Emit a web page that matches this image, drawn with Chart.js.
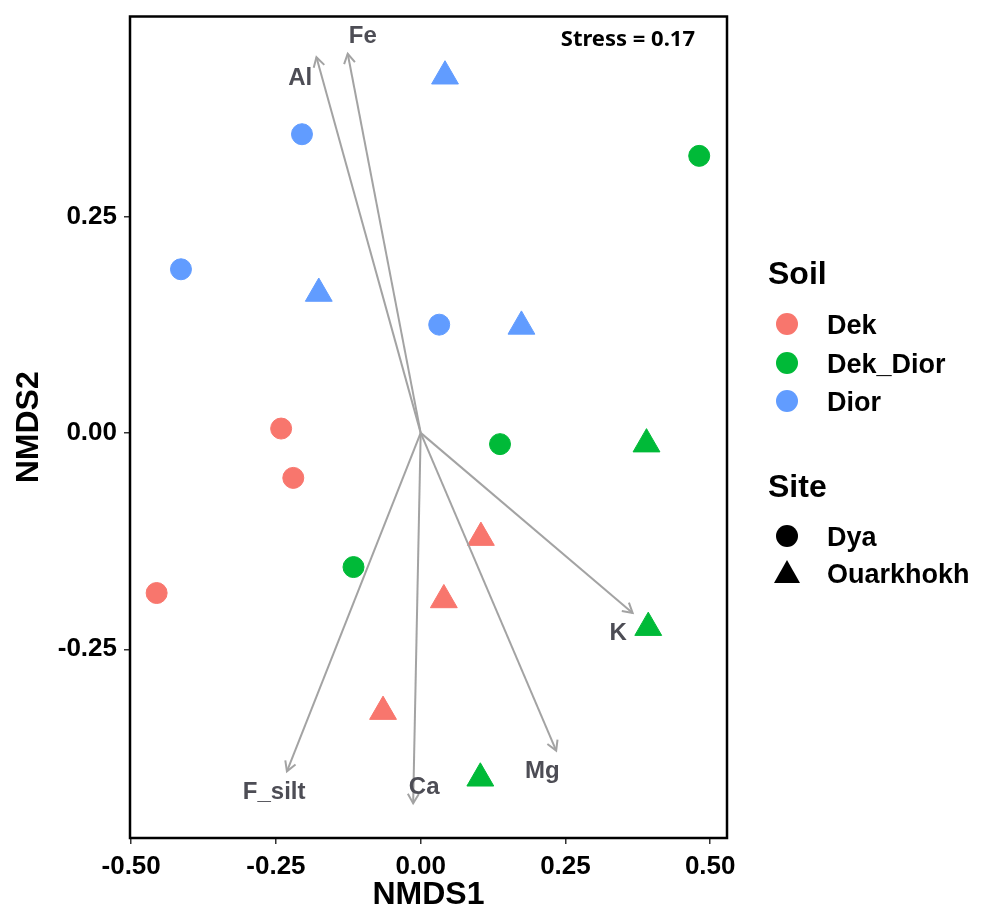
<!DOCTYPE html>
<html>
<head>
<meta charset="utf-8">
<script src="https://cdn.jsdelivr.net/npm/chart.js@4/dist/chart.umd.min.js"></script>
<style>
  html, body { margin: 0; padding: 0; background: #fff; }
  #wrap { width: 984px; height: 911px; position: relative; }
</style>
</head>
<body>
<div id="wrap"><canvas id="nmdsChart"></canvas></div>
<script>
// sample scores (NMDS1, NMDS2) by soil and site
var dekDya = [[-0.241, 0.005], [-0.220, -0.052], [-0.456, -0.185]];
var dekOuark = [[0.104, -0.121], [0.040, -0.193], [-0.065, -0.322]];
var dekDiorDya = [[0.481, 0.320], [0.137, -0.013], [-0.116, -0.155]];
var dekDiorOuark = [[0.390, -0.013], [0.393, -0.225], [0.103, -0.399]];
var diorDya = [[-0.205, 0.345], [-0.414, 0.189], [0.032, 0.125]];
var diorOuark = [[0.042, 0.412], [-0.176, 0.161], [0.174, 0.123]];

var soilLevels = ['Dek', 'Dek_Dior', 'Dior'];
var soilColors = ['#F8766D', '#00BA38', '#619CFF'];
var siteLevels = ['Dya', 'Ouarkhokh'];

// environmental fit vectors
var envNames = ['Al', 'Fe', 'K', 'Mg', 'Ca', 'F_silt'];
var envX = [-0.180, -0.126, 0.366, 0.234, -0.013, -0.231];
var envY = [0.434, 0.438, -0.208, -0.367, -0.428, -0.391];
var envLabelX = [-0.208, -0.100, 0.341, 0.210, 0.006, -0.253];
var envLabelY = [0.410, 0.458, -0.232, -0.391, -0.410, -0.415];

var xTicks = [-0.50, -0.25, 0.00, 0.25, 0.50];
var yTicks = [-0.25, 0.00, 0.25];
var stressText = 'Stress = 0.17';

var arrowGrey = '#a3a3a3';

function pts(arr) {
    return arr.map(function (p) { return { x: p[0], y: p[1] }; });
}

var pointSets = [
    { soil: 0, site: 0, data: dekDya },
    { soil: 0, site: 1, data: dekOuark },
    { soil: 1, site: 0, data: dekDiorDya },
    { soil: 1, site: 1, data: dekDiorOuark },
    { soil: 2, site: 0, data: diorDya },
    { soil: 2, site: 1, data: diorOuark }
];

var datasets = [];
pointSets.forEach(function (s) {
    datasets.push({
        type: 'scatter',
        label: soilLevels[s.soil] + ' ' + siteLevels[s.site],
        data: pts(s.data),
        backgroundColor: soilColors[s.soil],
        borderColor: soilColors[s.soil],
        borderWidth: 1,
        pointStyle: s.site === 0 ? 'circle' : 'triangle',
        pointRadius: s.site === 0 ? 10.5 : 15.5,
        pointHoverRadius: s.site === 0 ? 10.5 : 15.5,
        order: 2,
        clip: false
    });
});

envNames.forEach(function (name, i) {
    datasets.push({
        type: 'line',
        label: name,
        data: [{ x: 0, y: 0 }, { x: envX[i], y: envY[i] }],
        borderColor: arrowGrey,
        borderWidth: 2,
        pointRadius: 0,
        fill: false,
        order: 1
    });
});

// arrowheads, vector labels, panel frame, stress text and legend
var nmdsDecor = {
    id: 'nmdsDecor',
    afterDatasetsDraw: function (chart) {
        var ctx = chart.ctx;
        var xs = chart.scales.x, ys = chart.scales.y;
        var x0 = xs.getPixelForValue(0), y0 = ys.getPixelForValue(0);
        ctx.save();
        ctx.strokeStyle = arrowGrey;
        ctx.lineWidth = 2;
        envNames.forEach(function (name, i) {
            var x1 = xs.getPixelForValue(envX[i]), y1 = ys.getPixelForValue(envY[i]);
            var ang = Math.atan2(y1 - y0, x1 - x0);
            var len = 11, spread = Math.PI / 6;
            ctx.beginPath();
            ctx.moveTo(x1 - len * Math.cos(ang - spread), y1 - len * Math.sin(ang - spread));
            ctx.lineTo(x1, y1);
            ctx.lineTo(x1 - len * Math.cos(ang + spread), y1 - len * Math.sin(ang + spread));
            ctx.stroke();
        });
        ctx.fillStyle = '#4d4d55';
        ctx.font = 'bold 24px "Liberation Sans", Arial, sans-serif';
        ctx.textAlign = 'center';
        ctx.textBaseline = 'middle';
        envNames.forEach(function (name, i) {
            ctx.fillText(name, xs.getPixelForValue(envLabelX[i]), ys.getPixelForValue(envLabelY[i]));
        });
        ctx.restore();
    },
    afterDraw: function (chart) {
        var ctx = chart.ctx, a = chart.chartArea;
        ctx.save();
        ctx.strokeStyle = '#000';
        ctx.lineWidth = 2.5;
        ctx.strokeRect(a.left, a.top, a.right - a.left, a.bottom - a.top);

        ctx.fillStyle = '#000';
        ctx.font = 'bold 22px "Noto Sans", "Open Sans", sans-serif';
        ctx.textAlign = 'right';
        ctx.textBaseline = 'middle';
        ctx.fillText(stressText, 695, 40);

        // legend
        var lx = 768, sx = 787, tx = 827;
        ctx.textAlign = 'left';
        ctx.font = 'bold 32px "Liberation Sans", Arial, sans-serif';
        ctx.fillText('Soil', lx, 275);
        ctx.font = 'bold 27px "Liberation Sans", Arial, sans-serif';
        var soilY = [324, 363, 401];
        soilLevels.forEach(function (s, i) {
            ctx.fillStyle = soilColors[i];
            ctx.beginPath();
            ctx.arc(sx, soilY[i], 11, 0, Math.PI * 2);
            ctx.fill();
            ctx.fillStyle = '#000';
            ctx.fillText(s, tx, soilY[i] + 3);
        });
        ctx.font = 'bold 32px "Liberation Sans", Arial, sans-serif';
        ctx.fillText('Site', lx, 488);
        ctx.font = 'bold 27px "Liberation Sans", Arial, sans-serif';
        var siteY = [536, 573];
        siteLevels.forEach(function (s, i) {
            ctx.fillStyle = '#000';
            if (i === 0) {
                ctx.beginPath();
                ctx.arc(sx, siteY[i], 11, 0, Math.PI * 2);
                ctx.fill();
            } else {
                ctx.beginPath();
                ctx.moveTo(sx, siteY[i] - 13);
                ctx.lineTo(sx + 13, siteY[i] + 10);
                ctx.lineTo(sx - 13, siteY[i] + 10);
                ctx.closePath();
                ctx.fill();
            }
            ctx.fillText(s, tx, siteY[i] + 3);
        });
        ctx.restore();
    }
};

var tickFont = { family: '"Liberation Sans", Arial, sans-serif', size: 26, weight: 'bold' };
var titleFont = { family: '"Liberation Sans", Arial, sans-serif', size: 32, weight: 'bold', lineHeight: 1.0 };

new Chart(document.getElementById('nmdsChart'), {
    type: 'scatter',
    data: { datasets: datasets },
    options: {
        responsive: true,
        maintainAspectRatio: false,
        animation: false,
        layout: { padding: { left: 0, top: 10, right: 257, bottom: 0 } },
        plugins: {
            legend: { display: false },
            tooltip: { enabled: false }
        },
        scales: {
            x: {
                type: 'linear',
                min: -0.502,
                max: 0.529,
                afterBuildTicks: function (scale) {
                    scale.ticks = xTicks.map(function (v) { return { value: v }; });
                },
                afterFit: function (scale) {
                    scale.height = 73;
                    scale.paddingLeft = 0;
                    scale.paddingRight = 0;
                },
                grid: { drawOnChartArea: false, drawTicks: true, tickLength: 6, color: '#333', lineWidth: 1.5 },
                border: { display: false },
                ticks: {
                    color: '#000',
                    font: tickFont,
                    padding: 7,
                    maxRotation: 0,
                    callback: function (v) { return Number(v).toFixed(2); }
                },
                title: { display: true, text: 'NMDS1', color: '#000', font: titleFont, padding: { top: 0, bottom: 0 } }
            },
            y: {
                type: 'linear',
                min: -0.468,
                max: 0.481,
                afterBuildTicks: function (scale) {
                    scale.ticks = yTicks.map(function (v) { return { value: v }; });
                },
                afterFit: function (scale) {
                    scale.width = 130;
                    scale.paddingTop = 0;
                    scale.paddingBottom = 0;
                },
                grid: { drawOnChartArea: false, drawTicks: true, tickLength: 6, color: '#333', lineWidth: 1.5 },
                border: { display: false },
                ticks: {
                    color: '#000',
                    font: tickFont,
                    padding: 7,
                    callback: function (v) { return Number(v).toFixed(2); }
                },
                title: { display: true, text: 'NMDS2', color: '#000', font: titleFont, padding: { top: 13, bottom: 0 } }
            }
        }
    },
    plugins: [nmdsDecor]
});
</script>
</body>
</html>
